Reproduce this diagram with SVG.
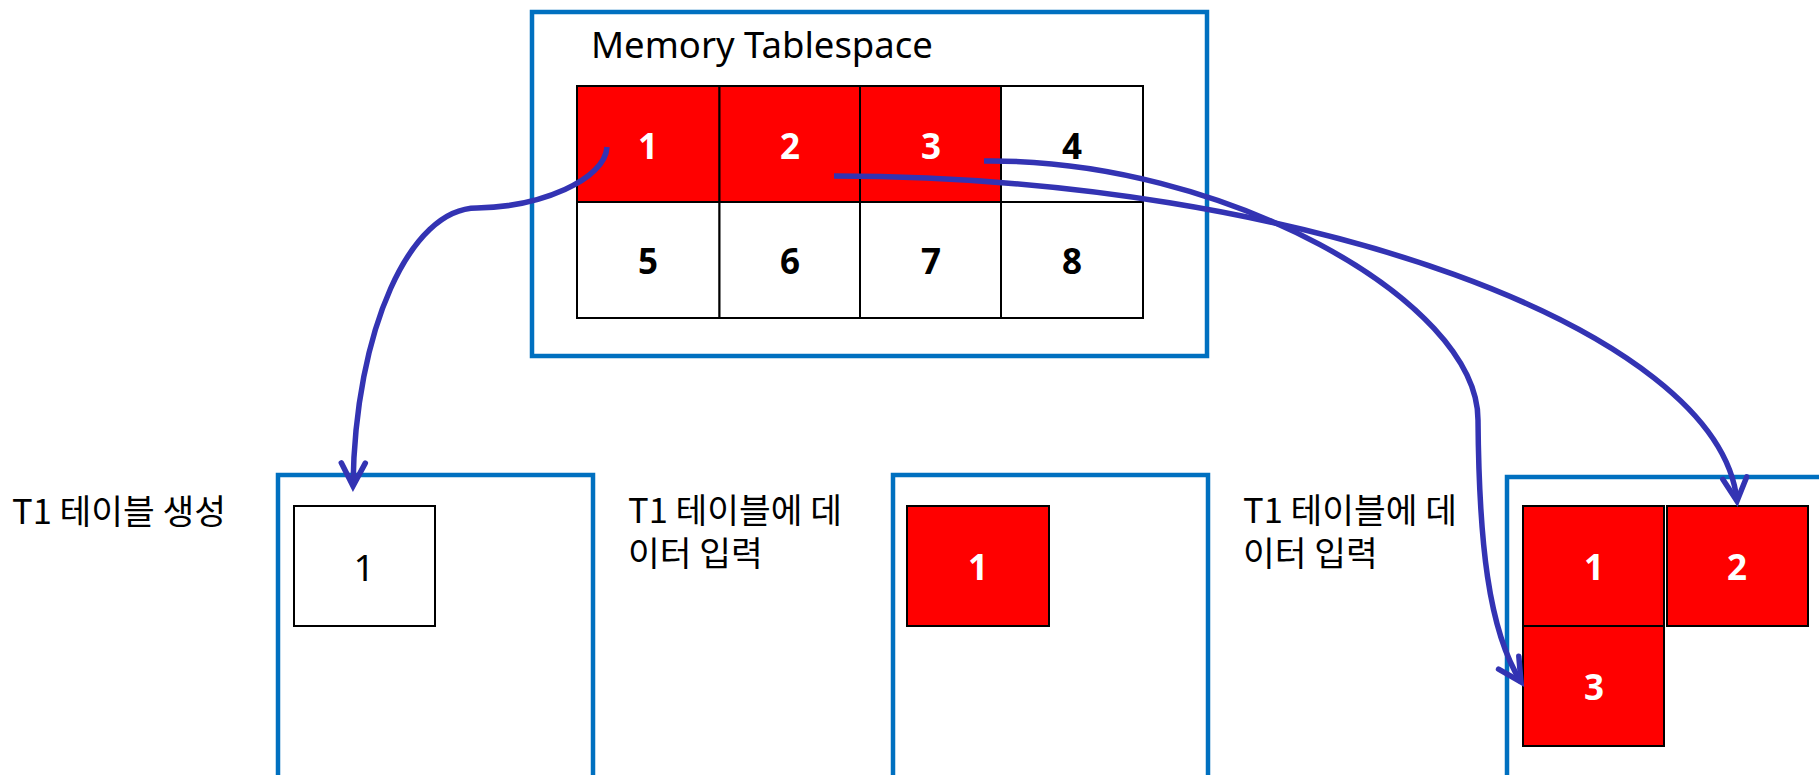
<svg xmlns="http://www.w3.org/2000/svg" width="1819" height="775" viewBox="0 0 1819 775">
<style>
.frame{fill:#fff;stroke:#0070C0;stroke-width:4.5}
.cell{stroke:#000;stroke-width:2}
.red{fill:#FF0000}
.wht{fill:#fff}
.num{font-family:"Noto Sans","Liberation Sans",sans-serif;font-size:35px;font-weight:bold;text-anchor:middle}
.numw{fill:#fff}
.numb{fill:#000}
.lbl{font-family:"Noto Sans CJK KR","Noto Sans",sans-serif;font-size:34.5px;fill:#000}
.title{font-family:"Noto Sans","Liberation Sans",sans-serif;font-size:36.5px;fill:#000}
.conn{fill:none;stroke:#3333B3;stroke-width:5.5;marker-end:url(#arr)}
</style>
<defs>
<marker id="arr" markerUnits="userSpaceOnUse" viewBox="-26 -16 30 32" markerWidth="30" markerHeight="32" refX="0" refY="0" orient="auto" overflow="visible">
<path d="M-23,-12 L0,0 L-23,12" fill="none" stroke="#3333B3" stroke-width="5.5" stroke-linejoin="miter" stroke-linecap="round"/>
</marker>
</defs>
<rect width="1819" height="775" fill="#fff"/>

<g id="memory-tablespace">
<rect class="frame" x="532" y="12" width="675" height="344"/>
<text class="title" x="591" y="58">Memory Tablespace</text>
<rect class="cell red" x="577" y="86" width="142.5" height="116"/>
<rect class="cell red" x="719.5" y="86" width="140.5" height="116"/>
<rect class="cell red" x="860" y="86" width="141" height="116"/>
<rect class="cell wht" x="1001" y="86" width="142" height="116"/>
<rect class="cell wht" x="577" y="202" width="142.5" height="116"/>
<rect class="cell wht" x="719.5" y="202" width="140.5" height="116"/>
<rect class="cell wht" x="860" y="202" width="141" height="116"/>
<rect class="cell wht" x="1001" y="202" width="142" height="116"/>
<text class="num numw" x="648" y="159">1</text>
<text class="num numw" x="790" y="159">2</text>
<text class="num numw" x="931" y="159">3</text>
<text class="num numb" x="1072" y="159">4</text>
<text class="num numb" x="648" y="274">5</text>
<text class="num numb" x="790" y="274">6</text>
<text class="num numb" x="931" y="274">7</text>
<text class="num numb" x="1072" y="274">8</text>
</g>

<g id="label-create">
<text class="lbl" x="12" y="524">T1 테이블 생성</text>
</g>
<g id="table-a">
<rect class="frame" x="278" y="475" width="315" height="330"/>
<rect class="cell wht" x="294" y="506" width="141" height="120"/>
<text x="364" y="581" text-anchor="middle" font-family="Noto Sans, Liberation Sans, sans-serif" font-size="37" fill="#000">1</text>
</g>

<g id="label-insert-1">
<text class="lbl"><tspan x="628" y="523">T1 테이블에 데</tspan><tspan x="628" y="566">이터 입력</tspan></text>
</g>
<g id="table-b">
<rect class="frame" x="893" y="475" width="315" height="330"/>
<rect class="cell red" x="907" y="506" width="142" height="120"/>
<text class="num numw" x="978" y="580">1</text>
</g>

<g id="label-insert-2">
<text class="lbl"><tspan x="1243" y="523">T1 테이블에 데</tspan><tspan x="1243" y="566">이터 입력</tspan></text>
</g>
<g id="table-c">
<rect class="frame" x="1507" y="477" width="318" height="330"/>
<rect class="cell red" x="1523" y="506" width="141" height="120"/>
<rect class="cell red" x="1667" y="506" width="141" height="120"/>
<rect class="cell red" x="1523" y="626" width="141" height="120"/>
<text class="num numw" x="1594" y="580">1</text>
<text class="num numw" x="1737" y="580">2</text>
<text class="num numw" x="1594" y="700">3</text>
</g>

<g id="connectors">
<path class="conn" d="M607,147 C605,180 540,207 477,208 C410,208 355,330 353,486"/>
<path class="conn" d="M834,176 C1300,176 1720,330 1737,501"/>
<path class="conn" d="M984,161 C1220,158 1478,300 1478,420 C1479,540 1488,630 1521,682"/>
</g>
</svg>
